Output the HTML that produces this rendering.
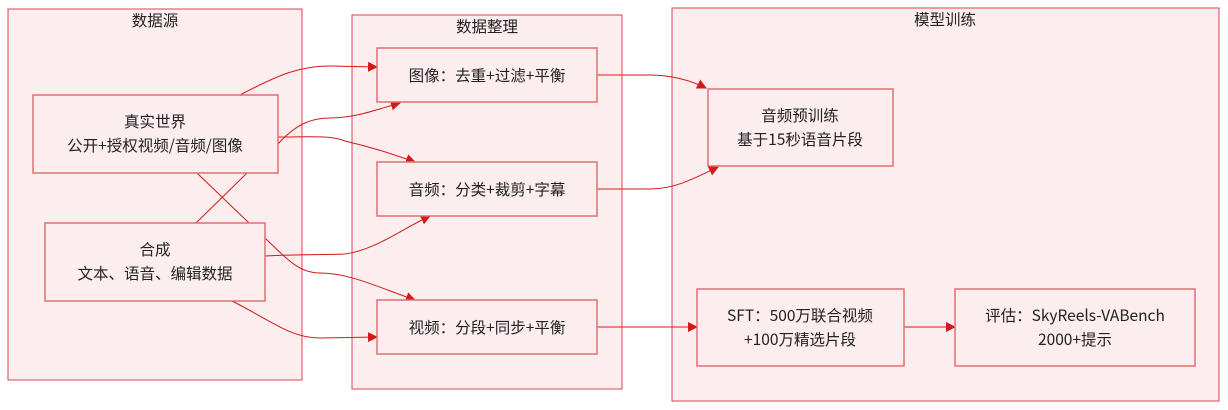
<!DOCTYPE html>
<html><head><meta charset="utf-8"><style>
html,body{margin:0;padding:0;background:#fff;}
svg{display:block;}
text{font-family:"Noto Sans CJK SC","Liberation Sans",sans-serif;font-size:15.5px;fill:#222;text-anchor:middle;}
.c{fill:#fcedee;stroke:#d9474f;stroke-width:1;}
.n{fill:#fcedee;stroke:#e07070;stroke-width:1.5;}
.e{fill:none;stroke:#d21a1a;stroke-width:1;}
</style></head><body>
<svg width="1228" height="410" viewBox="0 0 1228 410" xmlns="http://www.w3.org/2000/svg">
<defs><marker id="a" markerWidth="10" markerHeight="10" refX="9" refY="5" orient="auto" markerUnits="userSpaceOnUse"><path d="M0,0 L10,5 L0,10 z" fill="#d21a1a"/></marker></defs>
<rect class="c" x="8" y="9" width="294" height="371"/>
<rect class="c" x="352" y="15" width="270" height="374"/>
<rect class="c" x="672" y="8" width="547" height="393"/>
<text x="155" y="26">数据源</text>
<text x="487" y="32">数据整理</text>
<text x="945" y="25">模型训练</text>

<path class="e" d="M197,173 L249,223"/>
<path class="e" d="M196,223 L247,173"/>
<path class="e" d="M265,238 C290,262 300,273 320,273 C350,273 380,288 415,300" marker-end="url(#a)"/>
<path class="e" d="M240,95 C280,74 300,66 330,66 L377,67" marker-end="url(#a)"/>
<path class="e" d="M277,145 C295,125 310,118 330,118 C355,118 375,110 400,103" marker-end="url(#a)"/>
<path class="e" d="M277,137 C310,137 330,135 345,141 C375,148 395,155 415,162" marker-end="url(#a)"/>
<path class="e" d="M265,256 C300,254 320,255 345,254 C375,250 400,230 430,216" marker-end="url(#a)"/>
<path class="e" d="M232,301 C270,320 290,338 320,338 L377,337" marker-end="url(#a)"/>
<path class="e" d="M597,75 L650,75 C670,75 690,80 706,88" marker-end="url(#a)"/>
<path class="e" d="M597,189 L650,189 C675,189 695,178 718,167" marker-end="url(#a)"/>
<path class="e" d="M597,327 L697,327" marker-end="url(#a)"/>
<path class="e" d="M904,327 L955,327" marker-end="url(#a)"/>

<rect class="n" x="33" y="95" width="245" height="78"/>
<text x="155" y="127">真实世界</text>
<text x="155" y="151">公开+授权视频/音频/图像</text>
<rect class="n" x="45" y="223" width="220" height="78"/>
<text x="155" y="255">合成</text>
<text x="155" y="279">文本、语音、编辑数据</text>
<rect class="n" x="377" y="48" width="220" height="54"/>
<text x="487" y="81">图像：去重+过滤+平衡</text>
<rect class="n" x="377" y="162" width="220" height="54"/>
<text x="487" y="195">音频：分类+裁剪+字幕</text>
<rect class="n" x="377" y="300" width="220" height="54"/>
<text x="487" y="333">视频：分段+同步+平衡</text>
<rect class="n" x="708" y="89" width="185" height="77"/>
<text x="800" y="121">音频预训练</text>
<text x="800" y="145">基于15秒语音片段</text>
<rect class="n" x="697" y="289" width="207" height="77"/>
<text x="800" y="321">SFT：500万联合视频</text>
<text x="800" y="345">+100万精选片段</text>
<rect class="n" x="955" y="289" width="240" height="77"/>
<text x="1075" y="321">评估：SkyReels-VABench</text>
<text x="1075" y="345">2000+提示</text>
</svg>
</body></html>
